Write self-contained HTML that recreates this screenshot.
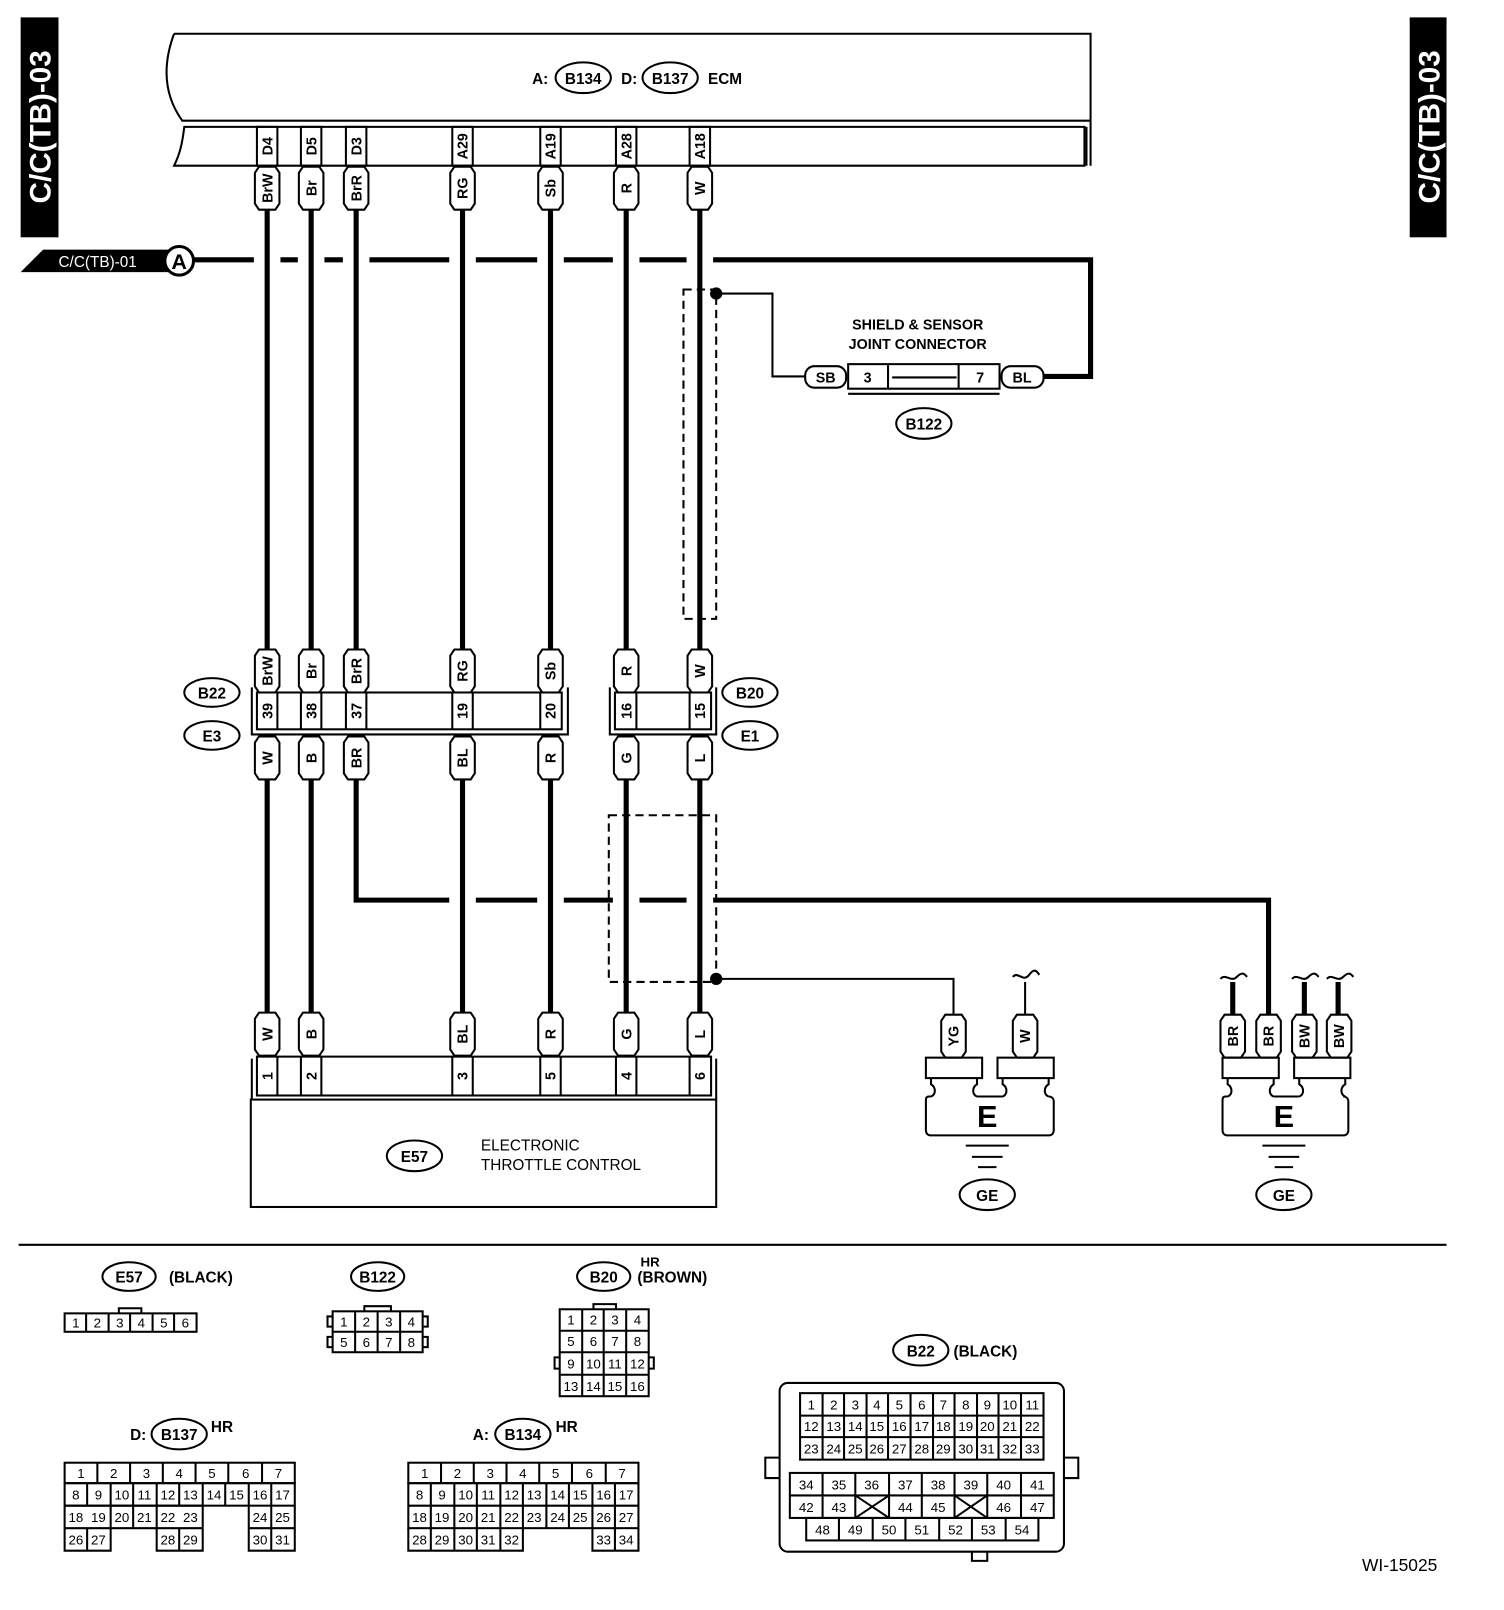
<!DOCTYPE html>
<html><head><meta charset="utf-8"><style>
html,body{margin:0;padding:0;background:#fff}
svg{display:block}
text{font-family:"Liberation Sans",sans-serif;font-weight:bold;fill:#000}
.w{stroke:#000;stroke-width:5;fill:none}
.t{stroke:#000;stroke-width:2;fill:none}
.n{font-weight:normal}
</style></head><body>
<svg width="1504" height="1610" viewBox="0 0 1470 1574" xmlns="http://www.w3.org/2000/svg">
<defs>
<polygon id="tag" points="-8,0 8,0 12,6 12,36 8,42 -8,42 -12,36 -12,6" fill="#fff" stroke="#000" stroke-width="2"/>
</defs>

<!-- side labels -->
<rect x="20" y="17" width="37" height="215" fill="#000"/>
<text transform="translate(49,124) rotate(-90)" text-anchor="middle" font-size="29" style="fill:#fff">C/C(TB)-03</text>
<rect x="1378" y="17" width="36" height="215" fill="#000"/>
<text transform="translate(1407,124) rotate(-90)" text-anchor="middle" font-size="29" style="fill:#fff">C/C(TB)-03</text>

<!-- ECM -->
<path class="t" d="M170,33 L1066,33 L1066,162 M1062,124 L1062,162 M170,33 C160,60 158,90 178,118 L1066,118"/>
<path class="t" d="M180,124 L1060,124 L1060,162 L170,162 C176,150 178,140 180,124 Z"/>
<text x="520" y="82" font-size="15">A:</text>
<ellipse cx="570" cy="76" rx="27" ry="15" class="t"/><text x="570" y="82" font-size="15" text-anchor="middle">B134</text>
<text x="607" y="82" font-size="15">D:</text>
<ellipse cx="655" cy="76" rx="27" ry="15" class="t"/><text x="655" y="82" font-size="15" text-anchor="middle">B137</text>
<text x="692" y="82" font-size="15">ECM</text>

<!-- ECM pin cells -->
<g class="t">
<rect x="251" y="124" width="20" height="38"/><rect x="294" y="124" width="20" height="38"/><rect x="338" y="124" width="20" height="38"/>
<rect x="442" y="124" width="20" height="38"/><rect x="528" y="124" width="20" height="38"/><rect x="602" y="124" width="20" height="38"/><rect x="674" y="124" width="20" height="38"/>
</g>
<g font-size="14" text-anchor="middle">
<text transform="translate(266,143) rotate(-90)">D4</text>
<text transform="translate(309,143) rotate(-90)">D5</text>
<text transform="translate(353,143) rotate(-90)">D3</text>
<text transform="translate(457,143) rotate(-90)">A29</text>
<text transform="translate(543,143) rotate(-90)">A19</text>
<text transform="translate(617,143) rotate(-90)">A28</text>
<text transform="translate(689,143) rotate(-90)">A18</text>
</g>

<!-- wires upper -->
<g class="w">
<path d="M261,205V635M304,205V635M348,205V635M452,205V635M538,205V635M612,205V635M684,205V635"/>
<path d="M190,254H248M274,254H291M317,254H335M361,254H439M465,254H525M551,254H599M625,254H671M697,254H1066V368H1020"/>
</g>
<!-- C/C(TB)-01 -->
<polygon points="20,266 42,244 170,244 170,266" fill="#000"/>
<text x="57" y="261" font-size="15" class="n" style="fill:#fff">C/C(TB)-01</text>
<circle cx="175" cy="255" r="14" fill="#fff" stroke="#000" stroke-width="3"/>
<text x="175" y="263" font-size="21" text-anchor="middle">A</text>

<!-- top tags -->
<use href="#tag" x="261" y="163"/><use href="#tag" x="304" y="163"/><use href="#tag" x="348" y="163"/><use href="#tag" x="452" y="163"/><use href="#tag" x="538" y="163"/><use href="#tag" x="612" y="163"/><use href="#tag" x="684" y="163"/>
<g font-size="14" text-anchor="middle">
<text transform="translate(266,184) rotate(-90)">BrW</text>
<text transform="translate(309,184) rotate(-90)">Br</text>
<text transform="translate(353,184) rotate(-90)">BrR</text>
<text transform="translate(457,184) rotate(-90)">RG</text>
<text transform="translate(543,184) rotate(-90)">Sb</text>
<text transform="translate(617,184) rotate(-90)">R</text>
<text transform="translate(689,184) rotate(-90)">W</text>
</g>

<!-- upper shield -->
<rect x="668" y="283" width="32" height="322" fill="none" stroke="#000" stroke-width="2" stroke-dasharray="8,5"/>
<circle cx="700" cy="287" r="6" fill="#000"/>
<path class="t" d="M700,287H755V368H787"/>
<!-- joint connector -->
<text x="897" y="322" font-size="14" text-anchor="middle">SHIELD &amp; SENSOR</text>
<text x="897" y="341" font-size="14" text-anchor="middle">JOINT CONNECTOR</text>
<rect x="787" y="358" width="40" height="21" rx="9" class="t" fill="#fff"/><text x="807" y="374" font-size="14" text-anchor="middle">SB</text>
<rect x="829" y="356" width="39" height="24" class="t"/><text x="848" y="374" font-size="14" text-anchor="middle">3</text>
<path class="t" d="M868,356H937M868,380H937M872,369H935M829,385H977"/>
<rect x="937" y="356" width="40" height="24" class="t"/><text x="958" y="374" font-size="14" text-anchor="middle">7</text>
<rect x="979" y="358" width="41" height="21" rx="9" class="t" fill="#fff"/><text x="999" y="374" font-size="14" text-anchor="middle">BL</text>
<ellipse cx="903" cy="414" rx="27" ry="15" class="t"/><text x="903" y="420" font-size="15" text-anchor="middle">B122</text>

<!-- middle connector -->
<use href="#tag" x="261" y="635"/><use href="#tag" x="304" y="635"/><use href="#tag" x="348" y="635"/><use href="#tag" x="452" y="635"/><use href="#tag" x="538" y="635"/><use href="#tag" x="612" y="635"/><use href="#tag" x="684" y="635"/>
<g font-size="14" text-anchor="middle">
<text transform="translate(266,656) rotate(-90)">BrW</text>
<text transform="translate(309,656) rotate(-90)">Br</text>
<text transform="translate(353,656) rotate(-90)">BrR</text>
<text transform="translate(457,656) rotate(-90)">RG</text>
<text transform="translate(543,656) rotate(-90)">Sb</text>
<text transform="translate(617,656) rotate(-90)">R</text>
<text transform="translate(689,656) rotate(-90)">W</text>
</g>
<g class="t">
<path d="M246,672V718H555V672M596,672V718H700V672"/>
<rect x="251" y="677" width="298" height="36"/><rect x="601" y="677" width="94" height="36"/>
<path d="M271,677V713M294,677V713M314,677V713M338,677V713M358,677V713M442,677V713M462,677V713M528,677V713M622,677V713M674,677V713"/>
</g>
<g font-size="14" text-anchor="middle">
<text transform="translate(266,695) rotate(-90)">39</text>
<text transform="translate(309,695) rotate(-90)">38</text>
<text transform="translate(353,695) rotate(-90)">37</text>
<text transform="translate(457,695) rotate(-90)">19</text>
<text transform="translate(543,695) rotate(-90)">20</text>
<text transform="translate(617,695) rotate(-90)">16</text>
<text transform="translate(689,695) rotate(-90)">15</text>
</g>
<use href="#tag" x="261" y="720"/><use href="#tag" x="304" y="720"/><use href="#tag" x="348" y="720"/><use href="#tag" x="452" y="720"/><use href="#tag" x="538" y="720"/><use href="#tag" x="612" y="720"/><use href="#tag" x="684" y="720"/>
<g font-size="14" text-anchor="middle">
<text transform="translate(266,741) rotate(-90)">W</text>
<text transform="translate(309,741) rotate(-90)">B</text>
<text transform="translate(353,741) rotate(-90)">BR</text>
<text transform="translate(457,741) rotate(-90)">BL</text>
<text transform="translate(543,741) rotate(-90)">R</text>
<text transform="translate(617,741) rotate(-90)">G</text>
<text transform="translate(689,741) rotate(-90)">L</text>
</g>
<g font-size="15" text-anchor="middle">
<ellipse cx="207" cy="677" rx="27" ry="14" class="t"/><text x="207" y="683">B22</text>
<ellipse cx="207" cy="719" rx="27" ry="14" class="t"/><text x="207" y="725">E3</text>
<ellipse cx="733" cy="677" rx="27" ry="14" class="t"/><text x="733" y="683">B20</text>
<ellipse cx="733" cy="719" rx="27" ry="14" class="t"/><text x="733" y="725">E1</text>
</g>

<!-- lower wires -->
<g class="w">
<path d="M261,762V990M304,762V990M452,762V990M538,762V990M612,762V990M684,762V990"/>
<path d="M348,762V880H439M465,880H525M551,880H599M625,880H671M697,880H1240V995"/>
</g>
<rect x="595" y="797" width="105" height="163" fill="none" stroke="#000" stroke-width="2" stroke-dasharray="8,5"/>
<circle cx="700" cy="957" r="6" fill="#000"/>
<path class="t" d="M700,957H932V995"/>

<!-- E57 -->
<use href="#tag" x="261" y="990"/><use href="#tag" x="304" y="990"/><use href="#tag" x="452" y="990"/><use href="#tag" x="538" y="990"/><use href="#tag" x="612" y="990"/><use href="#tag" x="684" y="990"/>
<g font-size="14" text-anchor="middle">
<text transform="translate(266,1011) rotate(-90)">W</text>
<text transform="translate(309,1011) rotate(-90)">B</text>
<text transform="translate(457,1011) rotate(-90)">BL</text>
<text transform="translate(543,1011) rotate(-90)">R</text>
<text transform="translate(617,1011) rotate(-90)">G</text>
<text transform="translate(689,1011) rotate(-90)">L</text>
</g>
<g class="t">
<path d="M246,1035V1075M700,1035V1075"/>
<rect x="251" y="1033" width="444" height="38"/>
<path d="M271,1033V1071M294,1033V1071M314,1033V1071M442,1033V1071M462,1033V1071M528,1033V1071M548,1033V1071M602,1033V1071M622,1033V1071M674,1033V1071"/>
<rect x="245" y="1075" width="455" height="105"/>
</g>
<g font-size="14" text-anchor="middle">
<text transform="translate(266,1052) rotate(-90)">1</text>
<text transform="translate(309,1052) rotate(-90)">2</text>
<text transform="translate(457,1052) rotate(-90)">3</text>
<text transform="translate(543,1052) rotate(-90)">5</text>
<text transform="translate(617,1052) rotate(-90)">4</text>
<text transform="translate(689,1052) rotate(-90)">6</text>
</g>
<ellipse cx="405" cy="1130" rx="27" ry="15" class="t"/><text x="405" y="1136" font-size="15" text-anchor="middle">E57</text>
<text x="470" y="1125" font-size="15" class="n">ELECTRONIC</text>
<text x="470" y="1144" font-size="15" class="n">THROTTLE CONTROL</text>

<!-- ground E left -->
<path class="t" d="M1002,995V960 M990,955c5,-6 10,6 16,-2s8,-2 10,0"/>
<use href="#tag" x="932" y="992"/><use href="#tag" x="1002" y="992"/>
<text transform="translate(937,1013) rotate(-90)" font-size="14" text-anchor="middle">YG</text>
<text transform="translate(1007,1013) rotate(-90)" font-size="14" text-anchor="middle">W</text>
<g class="t" fill="#fff">
<rect x="905" y="1034" width="55" height="20"/><rect x="975" y="1034" width="55" height="20"/>
<path d="M910,1054V1060c5,3 5,10 0,12 M955,1054V1060c-5,3 -5,10 0,12 M980,1054V1060c5,3 5,10 0,12 M1025,1054V1060c-5,3 -5,10 0,12 M955,1072H980 M910,1072h-2c-3,0 -3,2 -3,5V1105c0,3 2,5 5,5H1025c3,0 5,-2 5,-5V1077c0,-3 -2,-5 -5,-5"/>
</g>
<text x="965" y="1102" font-size="30" text-anchor="middle">E</text>
<path class="t" d="M944,1120H986M950,1131H980M956,1141H974"/>
<ellipse cx="965" cy="1168" rx="27" ry="15" class="t"/><text x="965" y="1174" font-size="15" text-anchor="middle">GE</text>

<!-- ground E right -->
<g class="w"><path d="M1205,995V960M1275,995V960M1308,995V960"/></g>
<path class="t" d="M1193,957c5,-6 10,4 16,-2s8,-2 10,0 M1263,957c5,-6 10,4 16,-2s8,-2 10,0 M1297,957c5,-6 10,4 16,-2s8,-2 10,0"/>
<use href="#tag" x="1205" y="992"/><use href="#tag" x="1240" y="992"/><use href="#tag" x="1275" y="992"/><use href="#tag" x="1309" y="992"/>
<g font-size="14" text-anchor="middle">
<text transform="translate(1210,1013) rotate(-90)">BR</text>
<text transform="translate(1245,1013) rotate(-90)">BR</text>
<text transform="translate(1280,1013) rotate(-90)">BW</text>
<text transform="translate(1314,1013) rotate(-90)">BW</text>
</g>
<g class="t" fill="#fff">
<rect x="1195" y="1034" width="55" height="20"/><rect x="1265" y="1034" width="55" height="20"/>
<path d="M1200,1054V1060c5,3 5,10 0,12 M1245,1054V1060c-5,3 -5,10 0,12 M1270,1054V1060c5,3 5,10 0,12 M1315,1054V1060c-5,3 -5,10 0,12 M1245,1072H1270 M1200,1072h-2c-3,0 -3,2 -3,5V1105c0,3 2,5 5,5H1313c3,0 5,-2 5,-5V1077c0,-3 -2,-5 -5,-5"/>
</g>
<text x="1255" y="1102" font-size="30" text-anchor="middle">E</text>
<path class="t" d="M1234,1120H1276M1240,1131H1270M1246,1141H1264"/>
<ellipse cx="1255" cy="1168" rx="27" ry="15" class="t"/><text x="1255" y="1174" font-size="15" text-anchor="middle">GE</text>

<!-- separator -->
<path class="t" d="M18,1217H1414"/>

<!-- E57 connector -->
<ellipse cx="126" cy="1248" rx="26" ry="14" class="t"/><text x="126" y="1254" font-size="15" text-anchor="middle">E57</text>
<text x="165" y="1254" font-size="15">(BLACK)</text>
<g class="t"><rect x="63" y="1284" width="129" height="18"/><path d="M84,1284V1302M106,1284V1302M127,1284V1302M149,1284V1302M170,1284V1302M116,1284V1279H138V1284"/></g>
<g font-size="13" class="n" text-anchor="middle"><text x="74" y="1298" class="n">1</text><text x="95" y="1298" class="n">2</text><text x="117" y="1298" class="n">3</text><text x="138" y="1298" class="n">4</text><text x="160" y="1298" class="n">5</text><text x="181" y="1298" class="n">6</text></g>

<!-- B122 connector -->
<ellipse cx="369" cy="1248" rx="26" ry="14" class="t"/><text x="369" y="1254" font-size="15" text-anchor="middle">B122</text>
<g class="t"><rect x="325" y="1282" width="88" height="40"/><path d="M325,1302H413M347,1282V1322M369,1282V1322M391,1282V1322M325,1287H320V1297H325M413,1287H418V1297H413M325,1307H320V1317H325M413,1307H418V1317H413M356,1282V1277H382V1282"/></g>
<g font-size="13" text-anchor="middle"><text x="336" y="1297" class="n">1</text><text x="358" y="1297" class="n">2</text><text x="380" y="1297" class="n">3</text><text x="402" y="1297" class="n">4</text><text x="336" y="1317" class="n">5</text><text x="358" y="1317" class="n">6</text><text x="380" y="1317" class="n">7</text><text x="402" y="1317" class="n">8</text></g>

<!-- B20 connector -->
<ellipse cx="590" cy="1248" rx="26" ry="14" class="t"/><text x="590" y="1254" font-size="15" text-anchor="middle">B20</text>
<text x="626" y="1238" font-size="13">HR</text>
<text x="623" y="1254" font-size="15">(BROWN)</text>
<g class="t"><rect x="547" y="1280" width="87" height="85"/><path d="M547,1301H634M547,1322H634M547,1344H634M569,1280V1365M590,1280V1365M612,1280V1365M580,1280V1275H602V1280M547,1327H542V1338H547M634,1327H639V1338H634"/></g>
<g font-size="13" text-anchor="middle">
<text x="558" y="1295" class="n">1</text><text x="580" y="1295" class="n">2</text><text x="601" y="1295" class="n">3</text><text x="623" y="1295" class="n">4</text>
<text x="558" y="1316" class="n">5</text><text x="580" y="1316" class="n">6</text><text x="601" y="1316" class="n">7</text><text x="623" y="1316" class="n">8</text>
<text x="558" y="1338" class="n">9</text><text x="580" y="1338" class="n">10</text><text x="601" y="1338" class="n">11</text><text x="623" y="1338" class="n">12</text>
<text x="558" y="1360" class="n">13</text><text x="580" y="1360" class="n">14</text><text x="601" y="1360" class="n">15</text><text x="623" y="1360" class="n">16</text>
</g>

<!-- B137 -->
<text x="127" y="1408" font-size="15">D:</text>
<ellipse cx="175" cy="1402" rx="27" ry="15" class="t"/><text x="175" y="1408" font-size="15" text-anchor="middle">B137</text>
<text x="206" y="1400" font-size="15">HR</text>
<g class="t">
<rect x="63" y="1430" width="225" height="20"/>
<path d="M95,1430V1450M127,1430V1450M159,1430V1450M191,1430V1450M223,1430V1450M256,1430V1450"/>
<rect x="63" y="1450" width="225" height="22"/>
<path d="M85,1450V1472M108,1450V1472M130,1450V1472M153,1450V1472M175,1450V1472M198,1450V1472M220,1450V1472M243,1450V1472M265,1450V1472"/>
<path d="M63,1472V1516H108V1494H198V1516H153V1472M63,1494H108M85,1494V1516M175,1494V1516M243,1472V1516H288V1472M243,1494H288M265,1472V1516M108,1472V1494M130,1472V1494M198,1472V1494M63,1472H198"/>
</g>
<g font-size="13" text-anchor="middle">
<text x="79" y="1445" class="n">1</text><text x="111" y="1445" class="n">2</text><text x="143" y="1445" class="n">3</text><text x="175" y="1445" class="n">4</text><text x="207" y="1445" class="n">5</text><text x="240" y="1445" class="n">6</text><text x="272" y="1445" class="n">7</text>
<text x="74" y="1466" class="n">8</text><text x="96" y="1466" class="n">9</text><text x="119" y="1466" class="n">10</text><text x="141" y="1466" class="n">11</text><text x="164" y="1466" class="n">12</text><text x="186" y="1466" class="n">13</text><text x="209" y="1466" class="n">14</text><text x="231" y="1466" class="n">15</text><text x="254" y="1466" class="n">16</text><text x="276" y="1466" class="n">17</text>
<text x="74" y="1488" class="n">18</text><text x="96" y="1488" class="n">19</text><text x="119" y="1488" class="n">20</text><text x="141" y="1488" class="n">21</text><text x="164" y="1488" class="n">22</text><text x="186" y="1488" class="n">23</text><text x="254" y="1488" class="n">24</text><text x="276" y="1488" class="n">25</text>
<text x="74" y="1510" class="n">26</text><text x="96" y="1510" class="n">27</text><text x="164" y="1510" class="n">28</text><text x="186" y="1510" class="n">29</text><text x="254" y="1510" class="n">30</text><text x="276" y="1510" class="n">31</text>
</g>

<!-- B134 -->
<text x="462" y="1408" font-size="15">A:</text>
<ellipse cx="511" cy="1402" rx="27" ry="15" class="t"/><text x="511" y="1408" font-size="15" text-anchor="middle">B134</text>
<text x="543" y="1400" font-size="15">HR</text>
<g class="t">
<rect x="399" y="1430" width="225" height="20"/>
<path d="M431,1430V1450M463,1430V1450M495,1430V1450M527,1430V1450M559,1430V1450M592,1430V1450"/>
<rect x="399" y="1450" width="225" height="44"/>
<path d="M399,1472H624M421,1450V1494M444,1450V1494M466,1450V1494M489,1450V1494M511,1450V1494M534,1450V1494M556,1450V1494M579,1450V1494M601,1450V1494"/>
<path d="M399,1494V1516H511V1494M421,1494V1516M444,1494V1516M466,1494V1516M489,1494V1516M579,1494V1516H624V1494M601,1494V1516"/>
</g>
<g font-size="13" text-anchor="middle">
<text x="415" y="1445" class="n">1</text><text x="447" y="1445" class="n">2</text><text x="479" y="1445" class="n">3</text><text x="511" y="1445" class="n">4</text><text x="543" y="1445" class="n">5</text><text x="576" y="1445" class="n">6</text><text x="608" y="1445" class="n">7</text>
<text x="410" y="1466" class="n">8</text><text x="432" y="1466" class="n">9</text><text x="455" y="1466" class="n">10</text><text x="477" y="1466" class="n">11</text><text x="500" y="1466" class="n">12</text><text x="522" y="1466" class="n">13</text><text x="545" y="1466" class="n">14</text><text x="567" y="1466" class="n">15</text><text x="590" y="1466" class="n">16</text><text x="612" y="1466" class="n">17</text>
<text x="410" y="1488" class="n">18</text><text x="432" y="1488" class="n">19</text><text x="455" y="1488" class="n">20</text><text x="477" y="1488" class="n">21</text><text x="500" y="1488" class="n">22</text><text x="522" y="1488" class="n">23</text><text x="545" y="1488" class="n">24</text><text x="567" y="1488" class="n">25</text><text x="590" y="1488" class="n">26</text><text x="612" y="1488" class="n">27</text>
<text x="410" y="1510" class="n">28</text><text x="432" y="1510" class="n">29</text><text x="455" y="1510" class="n">30</text><text x="477" y="1510" class="n">31</text><text x="500" y="1510" class="n">32</text><text x="590" y="1510" class="n">33</text><text x="612" y="1510" class="n">34</text>
</g>

<!-- B22 -->
<ellipse cx="900" cy="1320" rx="27" ry="15" class="t"/><text x="900" y="1326" font-size="15" text-anchor="middle">B22</text>
<text x="932" y="1326" font-size="15">(BLACK)</text>
<g class="t">
<rect x="762" y="1352" width="278" height="165" rx="8"/>
<path d="M762,1425H748V1445H762M1040,1425H1054V1445H1040M950,1517V1526H965V1517"/>
<rect x="782" y="1362" width="238" height="65"/>
<path d="M782,1384H1020M782,1405H1020M804,1362V1427M825,1362V1427M847,1362V1427M868,1362V1427M890,1362V1427M912,1362V1427M933,1362V1427M955,1362V1427M976,1362V1427M998,1362V1427"/>
<rect x="772" y="1440" width="258" height="44"/>
<path d="M772,1462H1030M804,1440V1484M836,1440V1484M869,1440V1484M901,1440V1484M933,1440V1484M965,1440V1484M998,1440V1484M836,1462L869,1484M869,1462L836,1484M933,1462L965,1484M965,1462L933,1484"/>
<rect x="788" y="1484" width="227" height="22"/>
<path d="M820,1484V1506M853,1484V1506M885,1484V1506M918,1484V1506M950,1484V1506M983,1484V1506"/>
</g>
<g font-size="13" text-anchor="middle">
<text x="793" y="1378" class="n">1</text><text x="815" y="1378" class="n">2</text><text x="836" y="1378" class="n">3</text><text x="857" y="1378" class="n">4</text><text x="879" y="1378" class="n">5</text><text x="901" y="1378" class="n">6</text><text x="922" y="1378" class="n">7</text><text x="944" y="1378" class="n">8</text><text x="965" y="1378" class="n">9</text><text x="987" y="1378" class="n">10</text><text x="1009" y="1378" class="n">11</text>
<text x="793" y="1399" class="n">12</text><text x="815" y="1399" class="n">13</text><text x="836" y="1399" class="n">14</text><text x="857" y="1399" class="n">15</text><text x="879" y="1399" class="n">16</text><text x="901" y="1399" class="n">17</text><text x="922" y="1399" class="n">18</text><text x="944" y="1399" class="n">19</text><text x="965" y="1399" class="n">20</text><text x="987" y="1399" class="n">21</text><text x="1009" y="1399" class="n">22</text>
<text x="793" y="1421" class="n">23</text><text x="815" y="1421" class="n">24</text><text x="836" y="1421" class="n">25</text><text x="857" y="1421" class="n">26</text><text x="879" y="1421" class="n">27</text><text x="901" y="1421" class="n">28</text><text x="922" y="1421" class="n">29</text><text x="944" y="1421" class="n">30</text><text x="965" y="1421" class="n">31</text><text x="987" y="1421" class="n">32</text><text x="1009" y="1421" class="n">33</text>
<text x="788" y="1456" class="n">34</text><text x="820" y="1456" class="n">35</text><text x="852" y="1456" class="n">36</text><text x="885" y="1456" class="n">37</text><text x="917" y="1456" class="n">38</text><text x="949" y="1456" class="n">39</text><text x="981" y="1456" class="n">40</text><text x="1014" y="1456" class="n">41</text>
<text x="788" y="1478" class="n">42</text><text x="820" y="1478" class="n">43</text><text x="885" y="1478" class="n">44</text><text x="917" y="1478" class="n">45</text><text x="981" y="1478" class="n">46</text><text x="1014" y="1478" class="n">47</text>
<text x="804" y="1500" class="n">48</text><text x="836" y="1500" class="n">49</text><text x="869" y="1500" class="n">50</text><text x="901" y="1500" class="n">51</text><text x="934" y="1500" class="n">52</text><text x="966" y="1500" class="n">53</text><text x="999" y="1500" class="n">54</text>
</g>

<text x="1405" y="1536" font-size="17" class="n" text-anchor="end">WI-15025</text>
</svg>
</body></html>
